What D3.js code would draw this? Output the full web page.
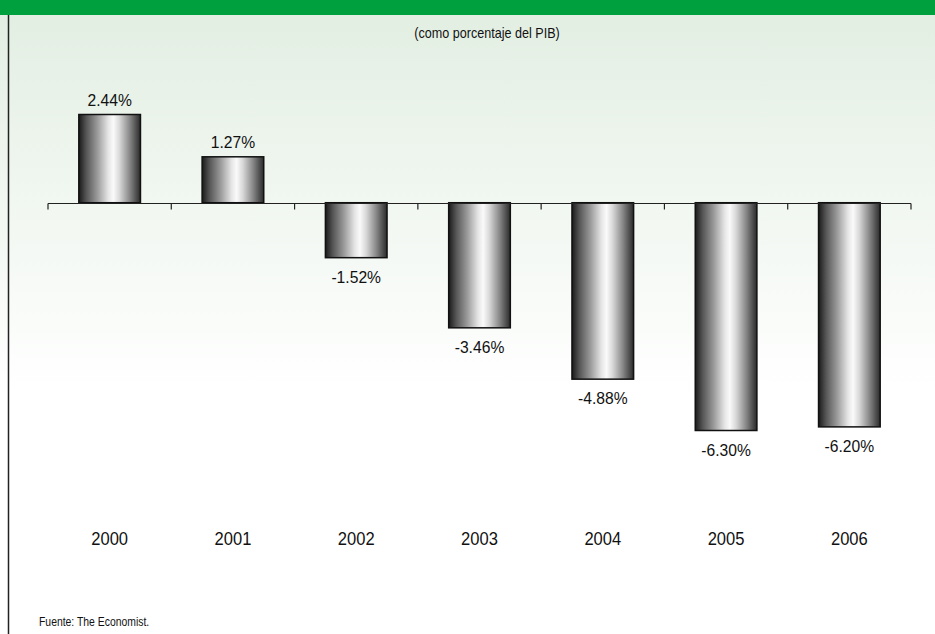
<!DOCTYPE html>
<html><head><meta charset="utf-8">
<script src="https://cdn.jsdelivr.net/npm/d3@7"></script>
<style>html,body{margin:0;padding:0;background:#fff;}svg{display:block;}</style>
</head><body>
<script>
const years = ["2000","2001","2002","2003","2004","2005","2006"];
const values = [2.44, 1.27, -1.52, -3.46, -4.88, -6.30, -6.20];
const valueLabels = ["2.44%","1.27%","-1.52%","-3.46%","-4.88%","-6.30%","-6.20%"];
const subtitle = "(como porcentaje del PIB)";
const source = "Fuente: The Economist.";

const W = 935, H = 634;
const font = "'Liberation Sans',Arial,sans-serif";
const svg = d3.select("body").append("svg").attr("width", W).attr("height", H);
const defs = svg.append("defs");

const bg = defs.append("linearGradient").attr("id","bg").attr("x1",0).attr("y1",0).attr("x2",0).attr("y2",1);
bg.append("stop").attr("offset","0%").attr("stop-color","#e2eee2");
bg.append("stop").attr("offset","62%").attr("stop-color","#ffffff");
bg.append("stop").attr("offset","100%").attr("stop-color","#ffffff");

const bar = defs.append("linearGradient").attr("id","bar").attr("x1",0).attr("y1",0).attr("x2",1).attr("y2",0);
[["0%","#1a1a1a"],["12%","#555"],["30%","#9a9a9a"],["48%","#e6e6e6"],["56%","#fafafa"],["66%","#d8d8d8"],["82%","#8a8a8a"],["100%","#2a2a2a"]]
  .forEach(([o,c]) => bar.append("stop").attr("offset",o).attr("stop-color",c));

svg.append("rect").attr("x",0).attr("y",0).attr("width",W).attr("height",H).attr("fill","url(#bg)");
svg.append("rect").attr("x",0).attr("y",0).attr("width",W).attr("height",15).attr("fill","#00a03e");
svg.append("line").attr("x1",8.5).attr("x2",8.5).attr("y1",15).attr("y2",H).attr("stroke","#222").attr("stroke-width",1.5);

const x = d3.scaleBand().domain(years).range([48, 911]).paddingInner(0.5).paddingOuter(0.25);
const y = d3.scaleLinear().domain([-6.3, 2.44]).range([430.5, 114.5]);

const step = x.step();
const g = svg.append("g");

g.selectAll("rect.bar").data(values).join("rect")
  .attr("class","bar")
  .attr("x",(d,i)=>x(years[i]))
  .attr("width",x.bandwidth())
  .attr("y",d=>y(Math.max(0,d)))
  .attr("height",d=>Math.abs(y(d)-y(0)))
  .attr("fill","url(#bar)")
  .attr("stroke","#111").attr("stroke-width",1.5);

const y0 = Math.round(y(0)) + 0.5;
g.append("line").attr("x1",48).attr("x2",911).attr("y1",y0).attr("y2",y0).attr("stroke","#222").attr("stroke-width",1.2);
const bounds = d3.range(years.length+1).map(i => 48 + i*step);
g.selectAll("line.tick").data(bounds).join("line").attr("class","tick")
  .attr("x1",d=>d).attr("x2",d=>d).attr("y1",y0).attr("y2",y0+6).attr("stroke","#222").attr("stroke-width",1.2);

g.selectAll("text.val").data(values).join("text")
  .attr("class","val")
  .attr("transform",(d,i)=>`translate(${x(years[i])+x.bandwidth()/2},${d>=0 ? y(d)-9 : y(d)+25}) scale(0.95,1)`)
  .attr("text-anchor","middle")
  .attr("font-family",font).attr("font-size",16.5).attr("fill","#111")
  .text((d,i)=>valueLabels[i]);

g.selectAll("text.year").data(years).join("text")
  .attr("class","year")
  .attr("transform",d=>`translate(${x(d)+x.bandwidth()/2},545) scale(0.92,1)`)
  .attr("text-anchor","middle")
  .attr("font-family",font).attr("font-size",18).attr("fill","#111")
  .text(d=>d);

svg.append("text").attr("transform","translate(487,38) scale(0.9,1)").attr("text-anchor","middle")
  .attr("font-family",font).attr("font-size",14).attr("fill","#111").text(subtitle);
svg.append("text").attr("transform","translate(39,626) scale(0.8,1)")
  .attr("font-family",font).attr("font-size",13).attr("fill","#111").text(source);
</script>
</body></html>
